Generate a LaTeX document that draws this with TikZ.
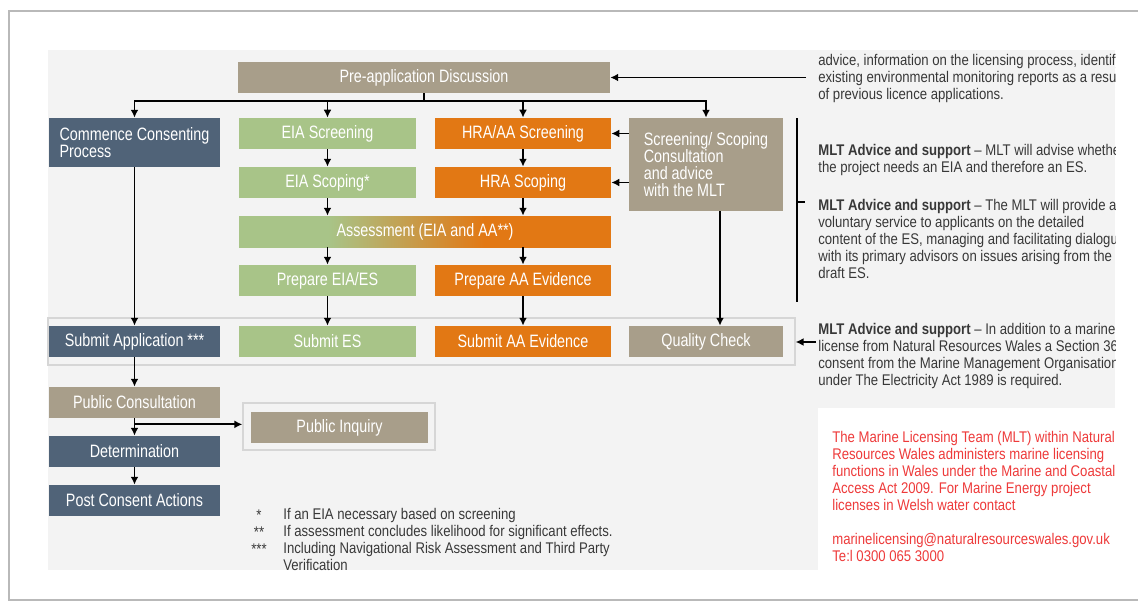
\documentclass[tikz,border=0pt]{standalone}
\usepackage{fontspec}
\setmainfont{Liberation Sans}[FakeStretch=0.85]
\newfontfamily\boxfamily{Liberation Sans}[FakeStretch=0.8]
\usetikzlibrary{arrows.meta}

\definecolor{panelgray}{HTML}{F3F3F3}
\definecolor{taupe}{HTML}{A89E8A}
\definecolor{slate}{HTML}{506378}
\definecolor{eiagreen}{HTML}{A8C488}
\definecolor{hraorange}{HTML}{E27814}
\definecolor{notegray}{HTML}{383838}
\definecolor{mltred}{HTML}{EE3A3A}
\definecolor{outlinegray}{HTML}{D6D6D6}

\pgfdeclarehorizontalshading{assessfade}{100bp}{color(0bp)=(eiagreen); color(37bp)=(eiagreen); color(58bp)=(hraorange); color(100bp)=(hraorange)}

\newcommand{\boxfont}{\boxfamily\fontsize{10.2}{9.64}\selectfont}
\newcommand{\notefont}{\fontsize{8.8}{9.64}\selectfont}

\tikzset{
  box/.style={minimum height=0.62cm, inner sep=1pt, text=white, font=\boxfont, align=center},
  eia/.style={box, fill=eiagreen, minimum width=3.54cm},
  hra/.style={box, fill=hraorange, minimum width=3.52cm},
  stage/.style={box, fill=slate, minimum width=3.42cm},
  taupebox/.style={box, fill=taupe},
  outline/.style={draw=outlinegray, line width=0.8pt, inner sep=0pt},
  note/.style={anchor=north west, inner sep=0pt, align=left, text=notegray, font=\notefont},
  conn/.style={draw=black, line width=1.1pt},
  arr/.style={conn, -{Latex[length=4.5pt,width=4.5pt]}}
}

\begin{document}
\begin{tikzpicture}[x=0.02cm, y=-0.02cm]
\useasboundingbox (0,0) rectangle (1138,602);
\draw[gray!55, line width=1.2pt] (1140,11) -- (9,11) -- (9,600) -- (1140,600);
\fill[panelgray] (48,50) rectangle (1115,570);

\node[outline, minimum width=14.94cm, minimum height=0.94cm] (subrow) at (421.5,341.5) {};
\node[outline, minimum width=3.84cm, minimum height=0.94cm] (inqframe) at (339,426.5) {};

\node[taupebox, minimum width=7.44cm] (pre) at (424,77.5) {Pre-application Discussion};
\node[stage, minimum height=0.98cm, align=left] (commence) at (134.5,142.5) {Commence Consenting\\Process};
\node[eia] (eiascr) at (327.5,133.5) {EIA Screening};
\node[hra] (hrascr) at (523,133.5) {HRA/AA Screening};
\node[taupebox, minimum width=3.08cm, minimum height=1.86cm, align=left] (consult) at (706,164.5) {Screening/ Scoping\\Consultation\\and advice\\with the MLT};
\node[eia] (eiasco) at (327.5,182.5) {EIA Scoping*};
\node[hra] (hrasco) at (523,182.5) {HRA Scoping};
\node[box, minimum width=7.44cm, shade, shading=assessfade] (assess) at (425,231.5) {Assessment (EIA and AA**)};
\node[eia] (prepeia) at (327.5,280.5) {Prepare EIA/ES};
\node[hra] (prepaa) at (523,280.5) {Prepare AA Evidence};
\node[stage] (subapp) at (134.5,341.5) {Submit Application ***};
\node[eia] (subes) at (327.5,341.5) {Submit ES};
\node[hra] (subaa) at (523,341.5) {Submit AA Evidence};
\node[taupebox, minimum width=3.08cm] (qc) at (706,341.5) {Quality Check};
\node[taupebox, minimum width=3.42cm] (pubcon) at (134.5,402.5) {Public Consultation};
\node[stage] (determ) at (134.5,451.5) {Determination};
\node[stage] (post) at (134.5,500.5) {Post Consent Actions};
\node[taupebox, minimum width=3.54cm] (inquiry) at (339.5,427.5) {Public Inquiry};

\coordinate (split) at (424,101);
\draw[conn] (pre) -- (split);
\foreach \n in {commence,eiascr,hrascr,consult}
  \draw[arr] (split) -| (\n);
\coordinate (prearrow) at (806,77.5);
\draw[arr] (prearrow) -- (pre);
\draw[arr] (consult.west |- hrascr) -- (hrascr);
\draw[arr] (consult.west |- hrasco) -- (hrasco);
\draw[arr] ([xshift=0.28cm]consult.south) -- ([xshift=0.28cm]qc.north);
\draw[arr] (eiascr) -- (eiasco);
\draw[arr] (hrascr) -- (hrasco);
\draw[arr] (eiasco) -- (eiasco |- assess.north);
\draw[arr] (hrasco) -- (hrasco |- assess.north);
\draw[arr] (prepeia |- assess.south) -- (prepeia);
\draw[arr] (prepaa |- assess.south) -- (prepaa);
\draw[arr] (prepeia) -- (subes);
\draw[arr] (prepaa) -- (subaa);
\draw[arr] (commence) -- (subapp);
\draw[arr] (subapp) -- (pubcon);
\draw[arr] (pubcon) -- (determ);
\draw[arr] (determ) -- (post);
\draw[arr] ([yshift=-0.12cm]pubcon.south) -- ([yshift=-0.12cm]pubcon.south -| inqframe.west);

\coordinate (brtop) at (797,118);
\coordinate (brbot) at (797,302);
\coordinate (brtick) at (797,202);
\draw[conn, line width=0.9pt] (brtop) -- (brbot);
\draw[conn, line width=0.9pt] (brtick) -- ++(8,0);
\coordinate (qcarrow) at (816,342);
\draw[arr] (qcarrow) -- (subrow.east |- qcarrow);

\begin{scope}
\clip (48,50) rectangle (1115,570);
\fill[white] (818,408) rectangle (1115,570);
\node[note] (prenote) at (818,54) {advice, information on the licensing process, identify\\existing environmental monitoring reports as a result\\of previous licence applications.};
\node[note] (eianote) at (818,144) {\textbf{MLT Advice and support} – MLT will advise whether\\the project needs an EIA and therefore an ES.};
\node[note] (esnote) at (818,199) {\textbf{MLT Advice and support} – The MLT will provide a\\voluntary service to applicants on the detailed\\content of the ES, managing and facilitating dialogue\\with its primary advisors on issues arising from the\\draft ES.};
\node[note] (qcnote) at (818,323) {\textbf{MLT Advice and support} – In addition to a marine\\license from Natural Resources Wales a Section 36\\consent from the Marine Management Organisation\\under The Electricity Act 1989 is required.};
\node[note, text=mltred] (mltnote) at (832,431) {The Marine Licensing Team (MLT) within Natural\\Resources Wales administers marine licensing\\functions in Wales under the Marine and Coastal\\Access Act 2009. For Marine Energy project\\licenses in Welsh water contact\\[9.64pt]marinelicensing@naturalresourceswales.gov.uk\\Te:l 0300 065 3000};
\node[note, anchor=north, align=center] (marks) at (259,510) {*\\**\\***};
\node[note] (footnotes) at (283,508) {If an EIA necessary based on screening\\If assessment concludes likelihood for significant effects.\\Including Navigational Risk Assessment and Third Party\\Verification};
\end{scope}
\end{tikzpicture}
\end{document}
